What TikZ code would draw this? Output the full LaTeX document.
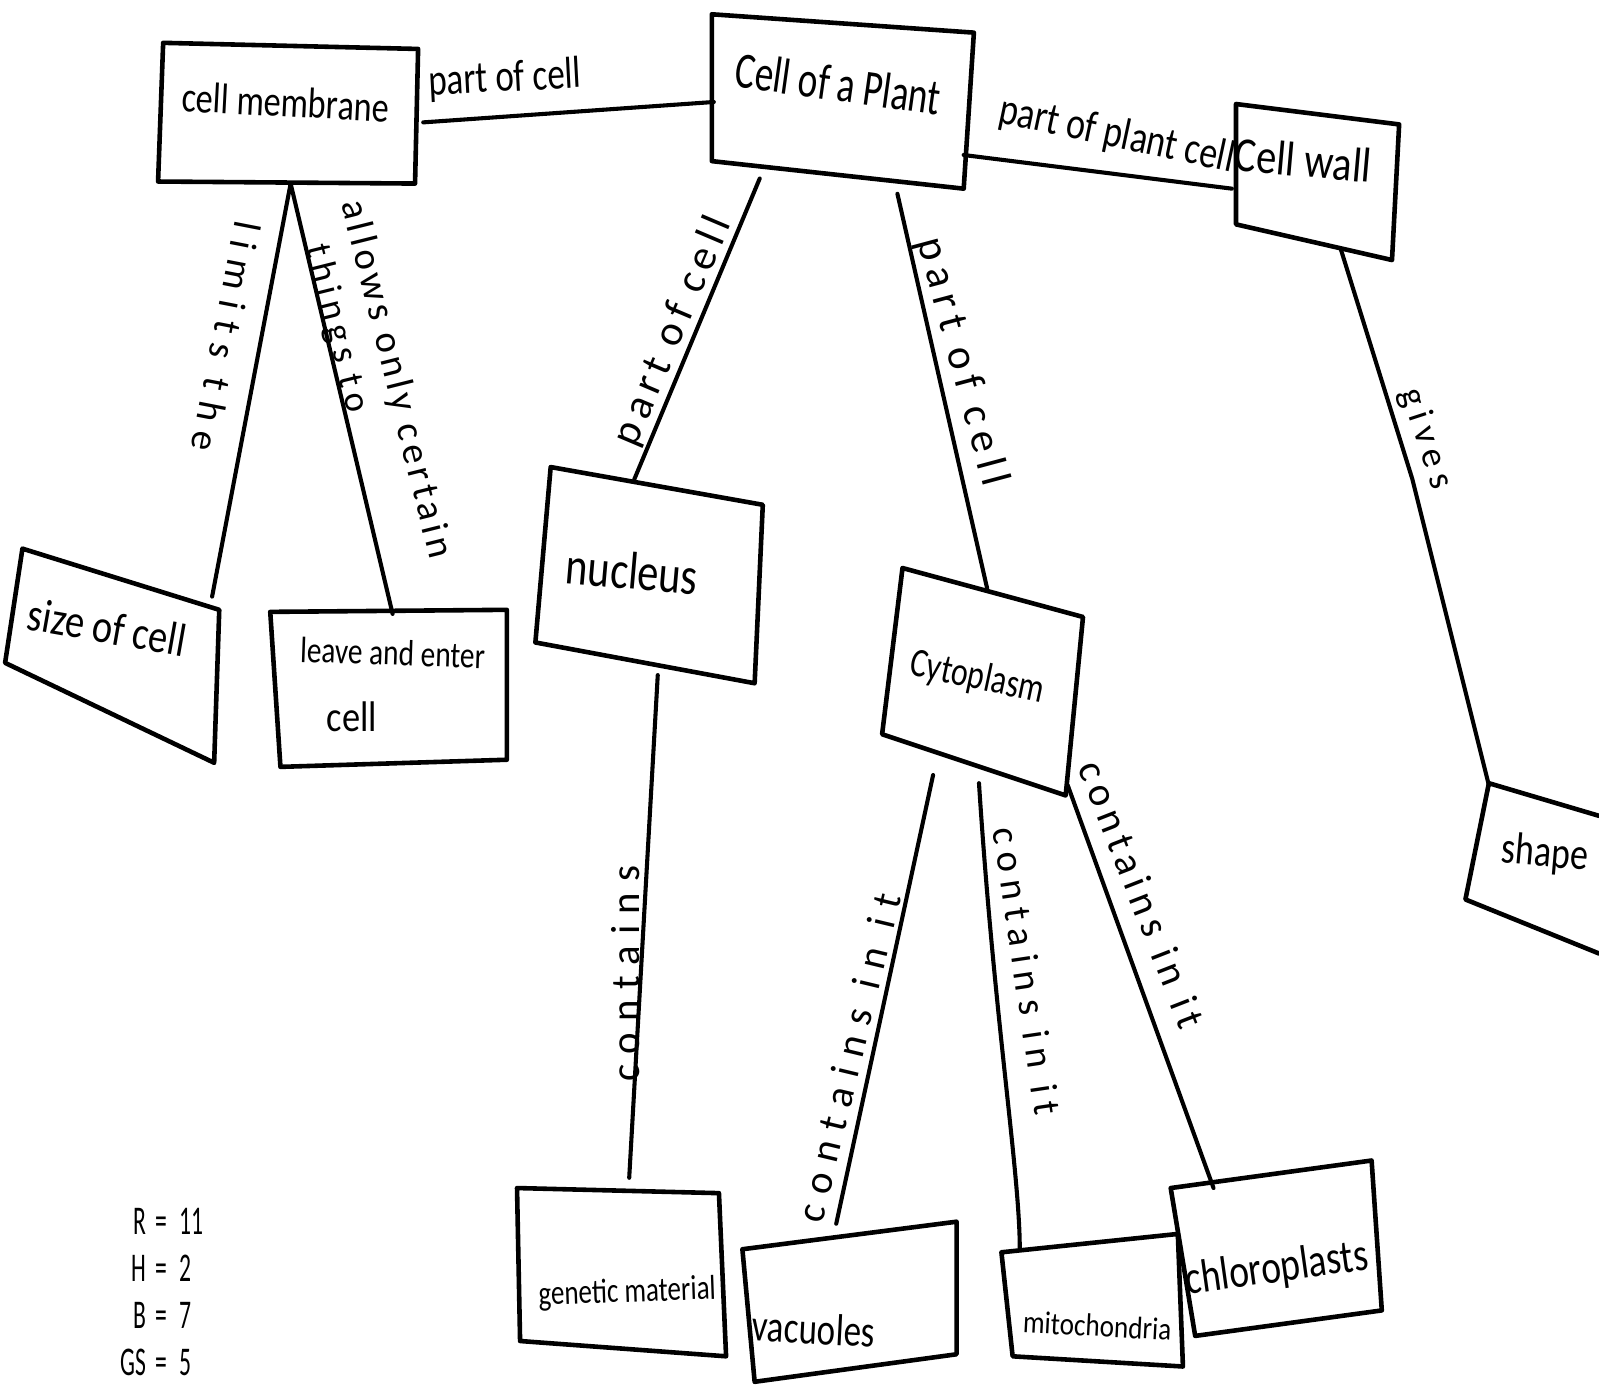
\documentclass[tikz,border=0pt]{standalone}
\usepackage{fontspec}
\usepackage{graphicx}
\newfontfamily\hand{Carlito}
\newcommand\hs[3]{{\fontsize{#1}{#1}\selectfont\scalebox{#2}[1]{#3}}}
\newcommand\ls[3]{{\fontsize{#1}{#1}\selectfont\addfontfeature{LetterSpace=#2}#3}}
\tikzset{
  box/.style={line width=4.5pt, line join=round, line cap=round},
  link/.style={line width=4pt, line cap=round},
  txt/.style={inner sep=0pt, font=\hand},
}
\begin{document}
\begin{tikzpicture}[x=1pt,y=-1pt]
\useasboundingbox (0,0) rectangle (1568,1368);
\fill[white] (0,0) rectangle (1568,1368);

% ---- boxes ----
\draw[box] (160,42) -- (410,48) -- (407,180) -- (155,178) -- cycle;        % cell membrane
\draw[box] (698,14) -- (955,32) -- (945,185) -- (698,158) -- cycle;        % cell of a plant
\draw[box] (1212,102) -- (1372,122) -- (1365,255) -- (1212,220) -- cycle;  % cell wall
\draw[box] (22,538) -- (215,598) -- (210,748) -- (5,650) -- cycle;         % size of cell
\draw[box] (265,600) -- (497,598) -- (497,745) -- (275,752) -- cycle;      % leave and enter
\draw[box] (540,458) -- (748,495) -- (740,670) -- (525,630) -- cycle;      % nucleus
\draw[box] (885,557) -- (1062,605) -- (1045,780) -- (865,720) -- cycle;    % cytoplasm
\draw[box] (1568,800) -- (1460,768) -- (1437,882) -- (1568,935);           % shape
\draw[box] (507,1165) -- (705,1170) -- (712,1330) -- (510,1315) -- cycle;  % genetic material
\draw[box] (728,1225) -- (938,1198) -- (938,1328) -- (740,1355) -- cycle;  % vacuoles
\draw[box] (982,1228) -- (1155,1210) -- (1160,1340) -- (993,1330) -- cycle;% mitochondria
\draw[box] (1148,1165) -- (1345,1138) -- (1355,1285) -- (1172,1310) -- cycle;% chloroplasts

% ---- node texts ----
\node[txt, rotate=-3]  (cm) at (280,100)  {\hs{42}{0.8}{cell membrane}};
\node[txt, rotate=-8]  (cp) at (822,82)   {\hs{50}{0.73}{Cell of a Plant}};
\node[txt, rotate=-5]  (cw) at (1278,157) {\hs{48}{0.83}{Cell wall}};
\node[txt, rotate=-10] (sz) at (105,615)  {\hs{46}{0.82}{size of cell}};
\node[txt, rotate=-2]  (le) at (385,640)  {\hs{36}{0.8}{leave and enter}};
\node[txt]             (le2) at (345,703) {\hs{42}{0.85}{cell}};
\node[txt, rotate=-5]  (nu) at (620,560)  {\hs{52}{0.8}{nucleus}};
\node[txt, rotate=-12] (cy) at (958,665)  {\hs{40}{0.78}{Cytoplasm}};
\node[txt, rotate=-5]  (sh) at (1515,838) {\hs{44}{0.8}{shape}};
\node[txt, rotate=2]   (gm) at (615,1268) {\hs{34}{0.78}{genetic material}};
\node[txt, rotate=-3]  (va) at (798,1303) {\hs{44}{0.78}{vacuoles}};
\node[txt, rotate=-3]  (mi) at (1076,1300){\hs{31}{0.86}{mitochondria}};
\node[txt, rotate=8]   (ch) at (1252,1245){\hs{46}{0.8}{chloroplasts}};

% ---- connector end points ----
\coordinate (cm-e) at (415,120);  \coordinate (cp-w) at (700,100);
\coordinate (cp-e) at (945,152);  \coordinate (cw-w) at (1208,185);
\coordinate (cm-s) at (285,180);  \coordinate (sz-n) at (208,585);
\coordinate (le-n) at (385,602);
\coordinate (cp-s1) at (745,175); \coordinate (nu-n) at (622,470);
\coordinate (cp-s2) at (880,190); \coordinate (cy-n) at (968,577);
\coordinate (cw-s) at (1315,245); \coordinate (sh-n) at (1460,770);
\coordinate (nu-s) at (645,662);  \coordinate (gm-n) at (617,1155);
\coordinate (cy-s1) at (915,760); \coordinate (va-n) at (820,1200);
\coordinate (cy-s2) at (960,768); \coordinate (mi-n) at (1000,1225);
\coordinate (cy-s3) at (1047,770);\coordinate (ch-n) at (1190,1165);

% ---- connectors ----
\draw[link] (cm-e) -- (cp-w);
\draw[link] (cp-e) -- (cw-w);
\draw[link] (cm-s) -- (sz-n);
\draw[link] (cm-s) -- (le-n);
\draw[link] (cp-s1) -- (nu-n);
\draw[link] (cp-s2) -- (cy-n);
\draw[link] (cw-s) -- (1385,470) -- (sh-n);
\draw[link] (nu-s) -- (gm-n);
\draw[link] (cy-s1) -- (va-n);
\draw[link] (cy-s2) .. controls (975,1000) and (1000,1150) .. (mi-n);
\draw[link] (cy-s3) -- (ch-n);

% ---- connector labels ----
\node[txt, rotate=3]    (l1) at (495,78)   {\hs{44}{0.78}{part of cell}};
\node[txt, rotate=-12]  (l2) at (1095,133) {\hs{44}{0.8}{part of plant cell}};
\node[txt, rotate=-101] (l3) at (222,330)  {\ls{38}{28}{limits the}};
\node[txt, rotate=-76]  (l4) at (388,372)  {\ls{38}{12}{allows only certain}};
\node[txt, rotate=-76]  (l5) at (330,322)  {\ls{36}{16}{things to}};
\node[txt, rotate=67]   (l6) at (660,325)  {\ls{42}{15}{part of cell}};
\node[txt, rotate=-75]  (l7) at (943,355)  {\ls{42}{18}{part of cell}};
\node[txt, rotate=-72]  (l8) at (1398,430) {\ls{36}{20}{gives}};
\node[txt, rotate=90]   (l9) at (613,955)  {\ls{40}{27}{contains}};
\node[txt, rotate=76.5] (l10) at (832,1037){\ls{40}{28}{contains in it}};
\node[txt, rotate=-81.6](l11) at (1007,952){\ls{38}{21}{contains in it}};
\node[txt, rotate=-68.7](l12) at (1120,877){\ls{40}{16}{contains in it}};

% ---- score ----
\node[txt, anchor=north west] (score) at (118,1178) {\fontsize{40}{46}\selectfont
  \scalebox{0.58}[1]{\begin{tabular}{@{}r@{\hspace{16pt}}c@{\hspace{20pt}}l@{}}
  R & = & 11\\ H & = & 2\\ B & = & 7\\ GS & = & 5\end{tabular}}};
\end{tikzpicture}
\end{document}
